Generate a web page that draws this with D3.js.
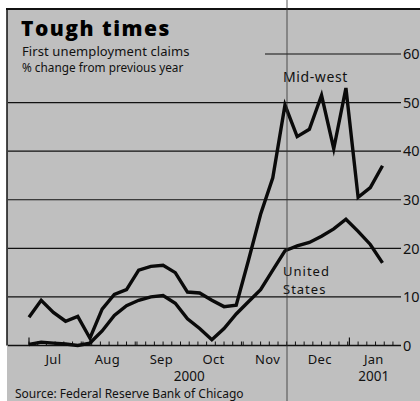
<!DOCTYPE html>
<html><head><meta charset="utf-8">
<script src="https://cdn.jsdelivr.net/npm/d3@7/dist/d3.min.js"></script>
<style>html,body{margin:0;padding:0;background:#fff}svg{display:block}</style>
</head><body>
<script>
const weeks = ["2000-07-01","2000-07-08","2000-07-15","2000-07-22","2000-07-29","2000-08-05","2000-08-12","2000-08-19","2000-08-26","2000-09-02","2000-09-09","2000-09-16","2000-09-23","2000-09-30","2000-10-07","2000-10-14","2000-10-21","2000-10-28","2000-11-04","2000-11-11","2000-11-18","2000-11-25","2000-12-02","2000-12-09","2000-12-16","2000-12-23","2000-12-30","2001-01-06","2001-01-13","2001-01-20"];
const midwest = [5.8,9.3,6.8,5.0,6.0,1.5,7.5,10.5,11.5,15.5,16.3,16.5,15.0,11.0,10.8,9.3,8.0,8.3,17.5,27.0,34.5,49.5,43.0,44.5,51.5,40.5,53.0,30.5,32.5,37.0];
const unitedStates = [0.2,0.7,0.5,0.3,0.0,0.5,3.0,6.2,8.2,9.3,10.0,10.3,8.7,5.5,3.5,1.2,3.5,6.5,9.0,11.5,15.5,19.5,20.5,21.2,22.5,24.0,26.0,23.5,20.8,17.0];
const yTicks = [0,10,20,30,40,50,60];
const monthLabels = ["Jul","Aug","Sep","Oct","Nov","Dec","Jan"];
const yearLabels = [["2000","2000-10-01"],["2001","2001-01-15"]];
const title = "Tough times";
const subtitle1 = "First unemployment claims";
const subtitle2 = "% change from previous year";
const source = "Source: Federal Reserve Bank of Chicago";

const W = 420, H = 401;
const parse = d3.timeParse("%Y-%m-%d");
const dates = weeks.map(parse);
const font = "'Noto Sans', 'Open Sans', sans-serif";

const svg = d3.select("body").append("svg").attr("width", W).attr("height", H);
svg.append("rect").attr("width", W).attr("height", H).attr("fill", "#fff");
svg.append("rect").attr("x", 7).attr("y", 9).attr("width", W - 7).attr("height", H - 9).attr("fill", "#bfbfbf");

const x = d3.scaleTime().domain([dates[0], dates[dates.length - 1]]).range([29, 382.5]);
const y = d3.scaleLinear().domain([0, 60]).range([345.5, 54]);

// gridlines
const grid = svg.append("g");
yTicks.forEach(v => {
  grid.append("line")
    .attr("x1", v === 60 ? 265 : 8).attr("x2", 401)
    .attr("y1", y(v)).attr("y2", y(v))
    .attr("stroke", "#111").attr("stroke-width", v === 0 ? 1.6 : 1.1);
  grid.append("text").attr("x", 403).attr("y", y(v)).attr("dy", "0.36em")
    .attr("font-family", font).attr("font-size", 14.5).attr("fill", "#111").text(v);
});

// x ticks
const tickG = svg.append("g");
const small = d3.timeDay.every(5).range(d3.timeDay.offset(x.domain()[0], -4), parse("2001-02-05"));
small.forEach(d => {
  const px = x(d); if (px < 9 || px > 400) return;
  tickG.append("line").attr("x1", px).attr("x2", px).attr("y1", y(0)).attr("y2", y(0) - 4)
    .attr("stroke", "#111").attr("stroke-width", 1);
});
[parse("2000-07-01"), parse("2001-01-01")].forEach(d => {
  tickG.append("line").attr("x1", x(d)).attr("x2", x(d)).attr("y1", y(0)).attr("y2", y(0) - 8)
    .attr("stroke", "#111").attr("stroke-width", 1.2);
});
const months = d3.timeMonth.range(parse("2000-07-01"), parse("2001-02-01"));
months.forEach((m, i) => {
  svg.append("text").attr("x", x(d3.timeDay.offset(m, 14))).attr("y", 364)
    .attr("text-anchor", "middle").attr("font-family", font).attr("font-size", 13).attr("letter-spacing", 0.3).attr("fill", "#111")
    .text(monthLabels[i]);
});
yearLabels.forEach(([t, d]) => {
  svg.append("text").attr("x", x(parse(d))).attr("y", 381)
    .attr("text-anchor", "middle").attr("font-family", font).attr("font-size", 13.5).attr("fill", "#111").text(t);
});

// lines
const line = d3.line().x((d, i) => x(dates[i])).y(d => y(d));
[midwest, unitedStates].forEach(s => {
  svg.append("path").datum(s).attr("d", line).attr("fill", "none")
    .attr("stroke", "#0a0a0a").attr("stroke-width", 3.4).attr("stroke-linejoin", "miter").attr("stroke-miterlimit", 6);
});

// labels
svg.append("text").attr("x", 283).attr("y", 82).attr("font-family", font)
  .attr("font-size", 14).attr("letter-spacing", 0.6).attr("fill", "#111").text("Mid-west");
svg.append("text").attr("x", 283).attr("y", 276).attr("font-family", font).attr("font-size", 13).attr("letter-spacing", 1).attr("fill", "#111").text("United");
svg.append("text").attr("x", 283).attr("y", 294).attr("font-family", font).attr("font-size", 13).attr("letter-spacing", 1).attr("fill", "#111").text("States");

// frame
svg.append("line").attr("x1", 6).attr("x2", W).attr("y1", 9).attr("y2", 9).attr("stroke", "#111").attr("stroke-width", 2);
svg.append("line").attr("x1", 7).attr("x2", 7).attr("y1", 9).attr("y2", y(0)).attr("stroke", "#111").attr("stroke-width", 1.5);

// titles
svg.append("text").attr("x", 21).attr("y", 36).attr("font-family", "'Open Sans', 'Noto Sans', sans-serif").attr("font-weight", 800).attr("font-size", 21).attr("letter-spacing", 1.5).attr("fill", "#000").text(title);
svg.append("text").attr("x", 22).attr("y", 56).attr("font-family", font).attr("font-size", 13).attr("letter-spacing", 0.1).attr("fill", "#111").text(subtitle1);
svg.append("text").attr("x", 22).attr("y", 71.5).attr("font-family", font).attr("font-size", 11.8).attr("fill", "#111").text(subtitle2);
svg.append("text").attr("x", 15).attr("y", 398).attr("font-family", font).attr("font-size", 12).attr("fill", "#111").text(source);

// fold crease
svg.append("line").attr("x1", 287).attr("x2", 287).attr("y1", 0).attr("y2", H).attr("stroke", "#333").attr("stroke-width", 1.5).attr("stroke-opacity", 0.55);
</script>
</body></html>
